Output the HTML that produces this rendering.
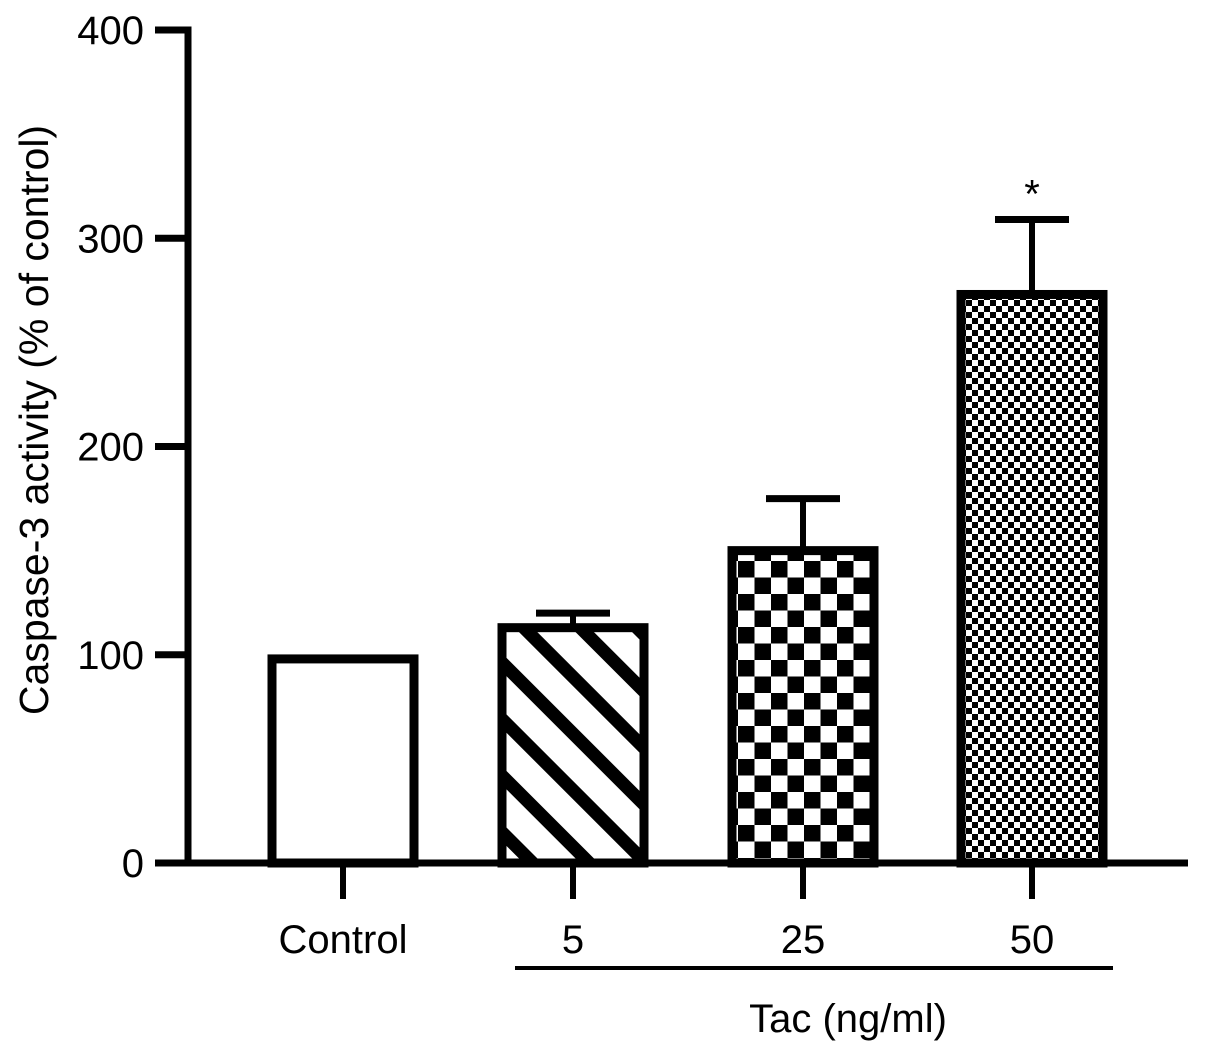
<!DOCTYPE html>
<html><head><meta charset="utf-8"><style>
body{margin:0;background:#fff}
svg{display:block;font-family:"Liberation Sans",Arial,sans-serif}
</style></head><body>
<svg id="chart" width="1205" height="1054" viewBox="0 0 1205 1054">
<defs>
<pattern id="stripes" patternUnits="userSpaceOnUse" width="40" height="40" patternTransform="rotate(-45)">
<rect width="40" height="40" fill="#fff"/><rect x="0" y="0" width="13" height="40" fill="#000"/>
</pattern>
<pattern id="checkBig" patternUnits="userSpaceOnUse" width="33" height="33" x="738" y="0">
<rect width="33" height="33" fill="#fff"/><rect width="16.5" height="16.5" fill="#000"/><rect x="16.5" y="16.5" width="16.5" height="16.5" fill="#000"/>
</pattern>
<pattern id="checkSmall" patternUnits="userSpaceOnUse" width="12" height="12" x="966" y="0">
<rect width="12" height="12" fill="#fff"/><rect width="6" height="6" fill="#000"/><rect x="6" y="6" width="6" height="6" fill="#000"/>
</pattern>
</defs>
<g id="plot"></g>
</svg>
<script>
const categories=["Control","5","25","50"];
const values=[98,113,150,273];
const errors=[0,7,25,36];
const sigMarks=["","","","*"];
const fills=["#fff","url(#stripes)","url(#checkBig)","url(#checkSmall)"];
const yTicks=[0,100,200,300,400];
const NS="http://www.w3.org/2000/svg";
const g=document.getElementById('plot');
const y0=863,y400=30;
function yScale(v){return y0-(y0-y400)*v/400;}
const centers=[343,573,803,1032];
function xScale(i){return centers[i];}
const barW=142;
function mk(tag,attrs,parent){const e=document.createElementNS(NS,tag);for(const k in attrs)e.setAttribute(k,attrs[k]);(parent||g).appendChild(e);return e;}
values.forEach((v,i)=>{
  const cx=xScale(i),top=yScale(v);
  if(errors[i]>0){
    const et=yScale(v+errors[i]);
    const s=mk('line',{x1:cx,x2:cx,y1:top,y2:et,stroke:'#000','stroke-width':6});
    
    
    const c=mk('line',{x1:cx-37,x2:cx+37,y1:et,y2:et,stroke:'#000','stroke-width':7});
    
    
  }
  const r=mk('rect',{x:cx-barW/2,y:top,width:barW,height:y0-top,fill:fills[i],stroke:'#000','stroke-width':9});
  
  
  if(sigMarks[i]){
    const t=mk('text',{x:cx,y:yScale(v+errors[i])-12,'text-anchor':'middle','font-size':40});
    t.textContent=sigMarks[i];
    
    
  }
  const tk=mk('line',{x1:cx,x2:cx,y1:y0,y2:y0+36,stroke:'#000','stroke-width':6});
  
  
  const lb=mk('text',{x:cx,y:953,'text-anchor':'middle','font-size':40});
  lb.textContent=categories[i];
  
  
});
const ya=mk('line',{x1:188,x2:188,y1:y400-3.5,y2:y0+3.5,stroke:'#000','stroke-width':7});


const xa=mk('line',{x1:155,x2:1188,y1:y0,y2:y0,stroke:'#000','stroke-width':7});


yTicks.forEach(v=>{
  const y=yScale(v);
  const t=mk('line',{x1:155,x2:188,y1:y,y2:y,stroke:'#000','stroke-width':7});
  
  
  const l=mk('text',{x:144,y:y+14,'text-anchor':'end','font-size':40});
  l.textContent=v;
  
  
});
const yt=mk('text',{x:0,y:0,'text-anchor':'middle','font-size':41,transform:'translate(48,420) rotate(-90)'});
yt.textContent='Caspase-3 activity (% of control)';


const br=mk('line',{x1:515,x2:1113,y1:968,y2:968,stroke:'#000','stroke-width':4});


const xt=mk('text',{x:848,y:1032,'text-anchor':'middle','font-size':40});
xt.textContent='Tac (ng/ml)';


</script>
</body></html>
